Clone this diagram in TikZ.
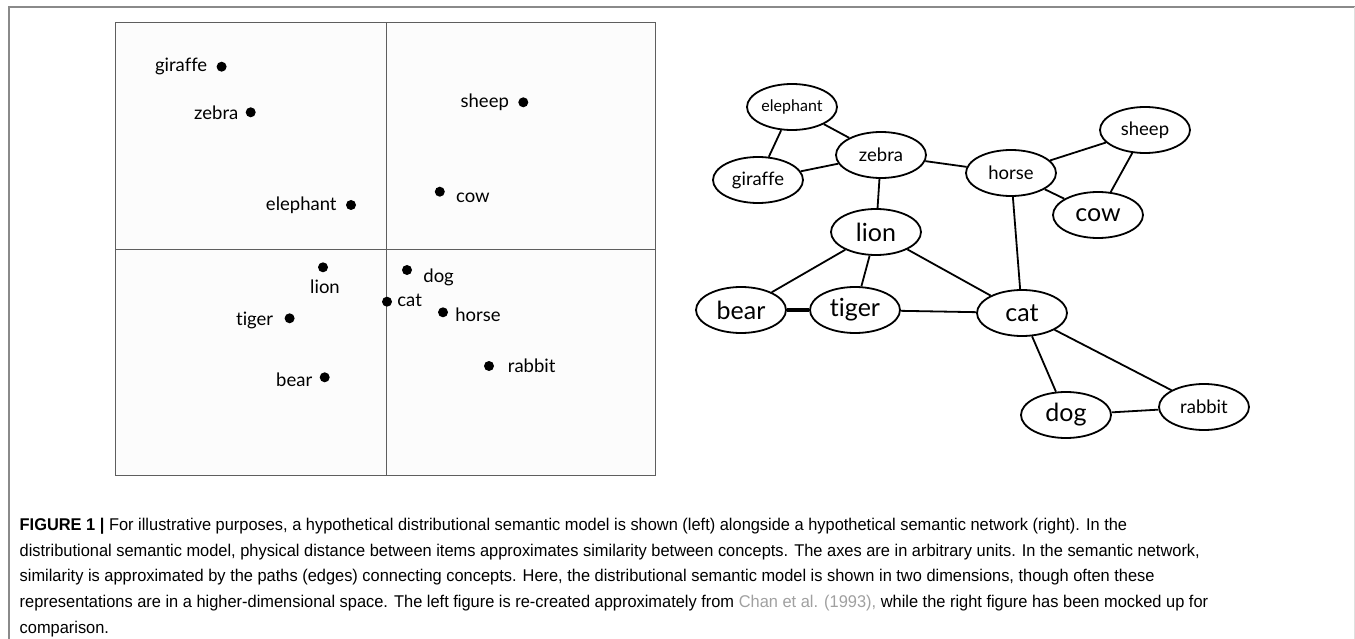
\documentclass[tikz,border=0pt]{standalone}
\usepackage{fontspec}
\setmainfont{Liberation Sans}
\newfontfamily\lblfont[Ligatures={NoCommon}]{Lato}
\newfontfamily\capfont[FakeStretch=0.965]{Liberation Sans}
\usetikzlibrary{shapes.geometric}
\definecolor{framegray}{HTML}{8A8A8A}
\definecolor{boxgray}{HTML}{5E5E5E}
\definecolor{refgray}{HTML}{A0A0A0}
\tikzset{
	dot/.style={circle,fill=black,minimum size=10pt,inner sep=0pt},
	lbl/.style={font=\lblfont\fontsize{18.5}{20}\selectfont,inner sep=1pt},
	small/.style={font=\lblfont\fontsize{18.5}{20}\selectfont},
	big/.style={font=\lblfont\fontsize{25}{27}\selectfont},
	link/.style={line width=1.8pt}
}
\begin{document}
\begin{tikzpicture}[x=1pt,y=-1pt]
			\useasboundingbox (0,0) rectangle (1355,639);
			\draw[framegray,line width=1.5pt] (9,640) -- (9,7) -- (1356,7);
			\draw[gray!25,line width=1pt] (1354,7) -- (1354,640);
			
			\draw[boxgray,line width=1pt,fill=black!1] (115.3,22.7) rectangle (655.6,475);
			\draw[boxgray,line width=1pt] (386,22.7) -- (386,475);
			\draw[boxgray,line width=1pt] (115.3,249.3) -- (655.6,249.3);
			
			\begin{scope}[every label/.style={lbl}]
				\node[dot,label={[label distance=8pt]left:giraffe}] (dgiraffe) at (221.6,66.7) {};
				\node[dot,label={[label distance=6pt]left:zebra}] (dzebra) at (250.7,112.3) {};
				\node[dot,label={[label distance=8pt]left:elephant}] (delephant) at (351,205) {};
				\node[dot,label={[label distance=8pt]left:sheep}] (dsheep) at (523.3,102.3) {};
				\node[dot,label={[label distance=10pt,yshift=-6.5pt]right:cow}] (dcow) at (439.8,191.7) {};
				\node[dot,label={[label distance=6pt,xshift=2pt]below:lion}] (dlion) at (323,267.3) {};
				\node[dot,label={[label distance=10pt,yshift=-7pt]right:dog}] (ddog) at (407,270) {};
				\node[dot,label={[label distance=4pt,yshift=1.7pt]right:cat}] (dcat) at (387,301.7) {};
				\node[dot,label={[label distance=6pt,yshift=-2.7pt]right:horse}] (dhorse) at (443,312.3) {};
				\node[dot,label={[label distance=10pt,yshift=-1.7pt]left:tiger}] (dtiger) at (289.6,318.3) {};
				\node[dot,label={[label distance=6pt,yshift=-2.7pt]left:bear}] (dbear) at (324.7,377.3) {};
				\node[dot,label={[label distance=12.5pt]right:rabbit}] (drabbit) at (489,366) {};
			\end{scope}
			
			\begin{scope}[every node/.style={ellipse,draw,line width=1.8pt,minimum width=90pt,minimum height=46pt,inner sep=0pt}]
				\node[small,font=\lblfont\fontsize{16}{18}\selectfont] (elephant) at (792,107) {elephant};
				\node[small] (giraffe) at (758,180) {giraffe};
				\node[small] (zebra) at (881,155) {zebra};
				\node[big] (lion) at (876,232) {lion};
				\node[small] (horse) at (1011,173) {horse};
				\node[small] (sheep) at (1145,130) {sheep};
				\node[big] (cow) at (1098,215) {cow};
				\node[big] (bear) at (741,310) {bear};
				\node[big] (tiger) at (855,310) {tiger};
				\node[big] (cat) at (1022,313) {cat};
				\node[big] (dog) at (1066,415) {dog};
				\node[small] (rabbit) at (1204,407) {rabbit};
			\end{scope}
			
			\begin{scope}[link]
				\path (elephant) edge (giraffe);
				\path (elephant) edge (zebra);
				\path (giraffe) edge (zebra);
				\path (zebra) edge (horse);
				\path (zebra) edge (lion);
				\path (horse) edge (sheep);
				\path (horse) edge (cow);
				\path (sheep) edge (cow);
				\path (horse) edge (cat);
				\path (lion) edge (bear);
				\path (lion) edge (tiger);
				\path (lion) edge (cat);
				\path[line width=4pt] (bear) edge (tiger);
				\path (tiger) edge (cat);
				\path (cat) edge (dog);
				\path (cat) edge (rabbit);
				\path (dog) edge (rabbit);
			\end{scope}
			
			\node[anchor=north west,align=left,inner sep=0pt,font=\capfont\fontsize{17}{25.7}\selectfont] (caption) at (19.5,518)
				{\textbf{FIGURE 1 \textbar} For illustrative purposes, a hypothetical distributional semantic model is shown (left) alongside a hypothetical semantic network (right). In the\\
				distributional semantic model, physical distance between items approximates similarity between concepts. The axes are in arbitrary units. In the semantic network,\\
				similarity is approximated by the paths (edges) connecting concepts. Here, the distributional semantic model is shown in two dimensions, though often these\\
				representations are in a higher-dimensional space. The left figure is re-created approximately from \textcolor{refgray}{Chan et al. (1993),} while the right figure has been mocked up for\\
				comparison.};
		\end{tikzpicture}
\end{document}
